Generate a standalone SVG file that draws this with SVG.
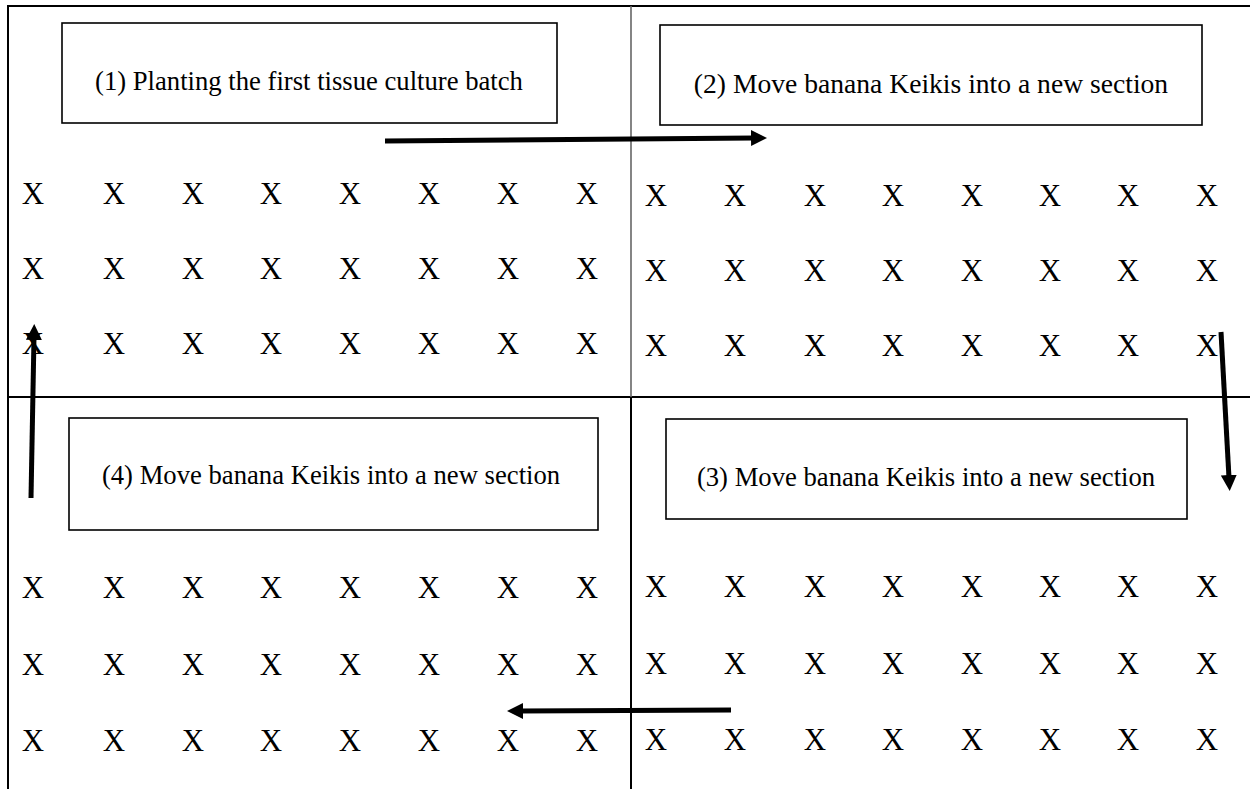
<svg xmlns="http://www.w3.org/2000/svg" width="1250" height="789" viewBox="0 0 1250 789">
<style>
.frame{stroke:#000;stroke-width:2;fill:none}
.box{fill:#fff;stroke:#000;stroke-width:1.6}
.lbl{font-family:"Liberation Serif","Times New Roman",serif;font-size:26.67px;fill:#000;text-anchor:middle}
.x{font-family:"Liberation Serif","Times New Roman",serif;font-size:31px;fill:#000;text-anchor:middle}
.arr{stroke:#000;stroke-width:5;fill:none}
</style>
<defs>
<marker id="ah" markerUnits="userSpaceOnUse" markerWidth="18" markerHeight="18" viewBox="0 0 18 18" refX="3" refY="9" orient="auto">
<path d="M0,1 L16,9 L0,17 Z" fill="#000"/>
</marker>
</defs>
<rect width="1250" height="789" fill="#fff"/>
<g id="grid">
<line class="frame" x1="8" y1="6" x2="1250" y2="6"/>
<line class="frame" x1="8" y1="5" x2="8" y2="789"/>
<line class="frame" x1="8" y1="397" x2="1250" y2="397"/>
<line x1="631" y1="6" x2="631" y2="397" stroke="#666" stroke-width="1.6"/>
<line class="frame" x1="631" y1="397" x2="631" y2="789"/>
</g>
<g id="marks-q1">
<text class="x" y="204"><tspan x="33">X</tspan><tspan x="114">X</tspan><tspan x="193">X</tspan><tspan x="271">X</tspan><tspan x="350">X</tspan><tspan x="429">X</tspan><tspan x="508">X</tspan><tspan x="587">X</tspan></text>
<text class="x" y="279"><tspan x="33">X</tspan><tspan x="114">X</tspan><tspan x="193">X</tspan><tspan x="271">X</tspan><tspan x="350">X</tspan><tspan x="429">X</tspan><tspan x="508">X</tspan><tspan x="587">X</tspan></text>
<text class="x" y="354"><tspan x="33">X</tspan><tspan x="114">X</tspan><tspan x="193">X</tspan><tspan x="271">X</tspan><tspan x="350">X</tspan><tspan x="429">X</tspan><tspan x="508">X</tspan><tspan x="587">X</tspan></text>
</g>
<g id="marks-q2">
<text class="x" y="206"><tspan x="656">X</tspan><tspan x="735">X</tspan><tspan x="815">X</tspan><tspan x="893">X</tspan><tspan x="972">X</tspan><tspan x="1050">X</tspan><tspan x="1128">X</tspan><tspan x="1207">X</tspan></text>
<text class="x" y="281"><tspan x="656">X</tspan><tspan x="735">X</tspan><tspan x="815">X</tspan><tspan x="893">X</tspan><tspan x="972">X</tspan><tspan x="1050">X</tspan><tspan x="1128">X</tspan><tspan x="1207">X</tspan></text>
<text class="x" y="356"><tspan x="656">X</tspan><tspan x="735">X</tspan><tspan x="815">X</tspan><tspan x="893">X</tspan><tspan x="972">X</tspan><tspan x="1050">X</tspan><tspan x="1128">X</tspan><tspan x="1207">X</tspan></text>
</g>
<g id="marks-q4">
<text class="x" y="598"><tspan x="33">X</tspan><tspan x="114">X</tspan><tspan x="193">X</tspan><tspan x="271">X</tspan><tspan x="350">X</tspan><tspan x="429">X</tspan><tspan x="508">X</tspan><tspan x="587">X</tspan></text>
<text class="x" y="675"><tspan x="33">X</tspan><tspan x="114">X</tspan><tspan x="193">X</tspan><tspan x="271">X</tspan><tspan x="350">X</tspan><tspan x="429">X</tspan><tspan x="508">X</tspan><tspan x="587">X</tspan></text>
<text class="x" y="751"><tspan x="33">X</tspan><tspan x="114">X</tspan><tspan x="193">X</tspan><tspan x="271">X</tspan><tspan x="350">X</tspan><tspan x="429">X</tspan><tspan x="508">X</tspan><tspan x="587">X</tspan></text>
</g>
<g id="marks-q3">
<text class="x" y="597"><tspan x="656">X</tspan><tspan x="735">X</tspan><tspan x="815">X</tspan><tspan x="893">X</tspan><tspan x="972">X</tspan><tspan x="1050">X</tspan><tspan x="1128">X</tspan><tspan x="1207">X</tspan></text>
<text class="x" y="674"><tspan x="656">X</tspan><tspan x="735">X</tspan><tspan x="815">X</tspan><tspan x="893">X</tspan><tspan x="972">X</tspan><tspan x="1050">X</tspan><tspan x="1128">X</tspan><tspan x="1207">X</tspan></text>
<text class="x" y="750"><tspan x="656">X</tspan><tspan x="735">X</tspan><tspan x="815">X</tspan><tspan x="893">X</tspan><tspan x="972">X</tspan><tspan x="1050">X</tspan><tspan x="1128">X</tspan><tspan x="1207">X</tspan></text>
</g>
<g id="node1">
<rect class="box" x="62" y="23" width="495" height="100"/>
<text class="lbl" x="309" y="90">(1) Planting the first tissue culture batch</text>
</g>
<g id="node2">
<rect class="box" x="660" y="25" width="542" height="100"/>
<text class="lbl" x="931" y="93" style="font-size:27.6px">(2) Move banana Keikis into a new section</text>
</g>
<g id="node3">
<rect class="box" x="666" y="419" width="521" height="100"/>
<text class="lbl" x="926" y="486">(3) Move banana Keikis into a new section</text>
</g>
<g id="node4">
<rect class="box" x="69" y="418" width="529" height="112"/>
<text class="lbl" x="331" y="484">(4) Move banana Keikis into a new section</text>
</g>
<g id="connectors">
<line class="arr" x1="385" y1="141" x2="754" y2="138" marker-end="url(#ah)"/>
<line class="arr" x1="1221" y1="332" x2="1229" y2="478" marker-end="url(#ah)"/>
<line class="arr" x1="731" y1="710" x2="520" y2="711" marker-end="url(#ah)"/>
<line class="arr" x1="31" y1="498" x2="34" y2="337" marker-end="url(#ah)"/>
</g>
</svg>
